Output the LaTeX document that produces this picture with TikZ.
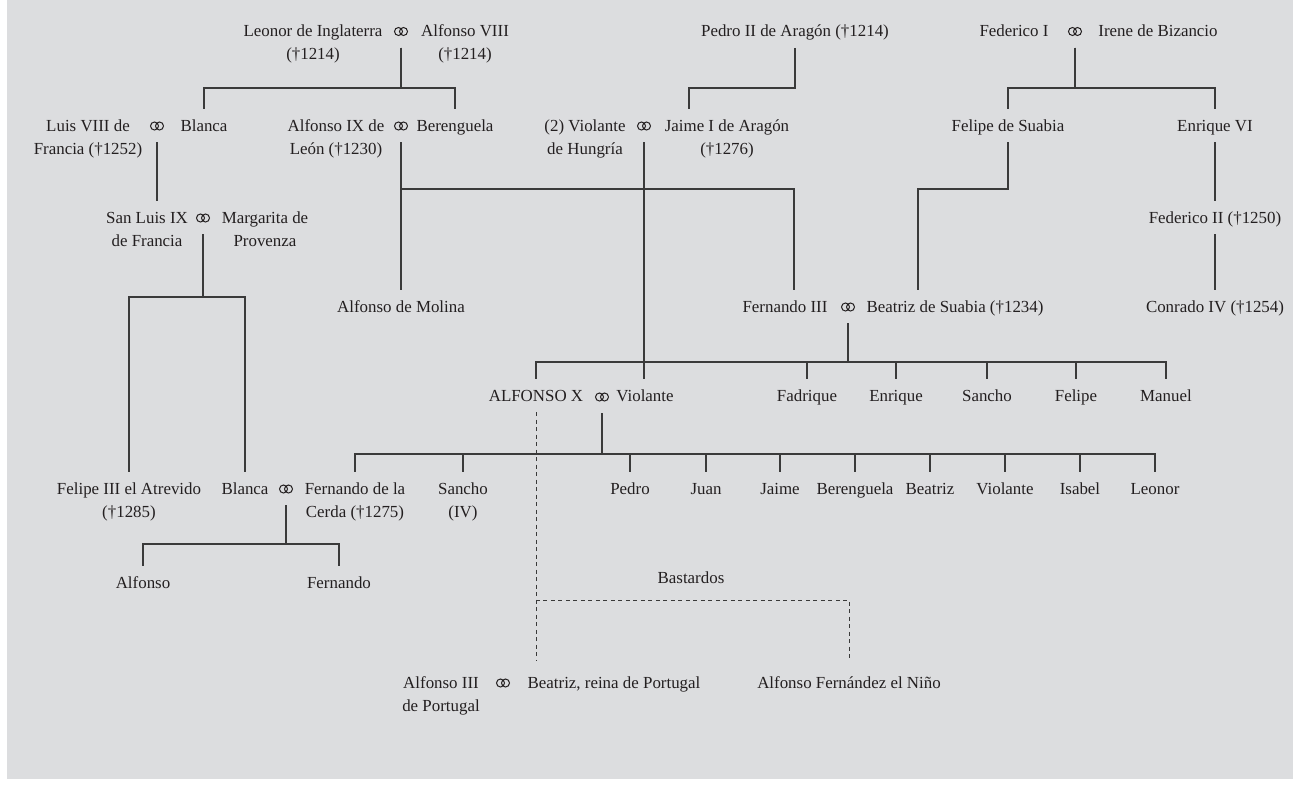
\documentclass[tikz,border=0pt]{standalone}
\usepackage{fontspec}
\setmainfont{Liberation Serif}
\usepackage{tikz}
\definecolor{panel}{HTML}{DCDDDF}
\definecolor{ink}{HTML}{231F20}
\definecolor{linecol}{HTML}{3A3A3A}

\begin{document}
\begin{tikzpicture}[x=1pt,y=-1pt,
  person/.style={anchor=north,inner sep=0pt,align=center,text=ink,font=\fontsize{16.9}{23}\selectfont,execute at begin node=\strut,execute at end node=\strut},
  wed/.style={inner sep=0pt,minimum width=14pt,minimum height=24pt},
  rings/.style={draw=ink,line width=1pt},
  fam/.style={draw=linecol,line width=1.2pt,shorten <=4pt,shorten >=6pt},
  bast/.style={fam,line width=1pt,dash pattern=on 4pt off 3.5pt,shorten >=12pt}]
  \useasboundingbox (0,0) rectangle (1293,787);
  \fill[panel] (7,0) rectangle (1293,779);

  \node[person](leonor) at (313,20.4){\strut Leonor de Inglaterra\\(†1214)};
  \node[wed](m1) at (401,31.5){};
  \node[person](alfonsoVIII) at (465,20.4){\strut Alfonso VIII\\(†1214)};
  \node[person](pedro) at (795,20.4){Pedro II de Aragón (†1214)};
  \node[person](federico) at (1014,20.4){Federico I};
  \node[wed](m2) at (1075,31.5){};
  \node[person](irene) at (1158,20.4){Irene de Bizancio};

  \node[person](luis) at (88,114.9){\strut Luis VIII de\\Francia (†1252)};
  \node[wed](m3) at (157,126){};
  \node[person](blanca) at (204,114.9){Blanca};
  \node[person](alfonsoIX) at (336,114.9){\strut Alfonso IX de\\León (†1230)};
  \node[wed](m4) at (401,126){};
  \node[person](berenguela) at (455,114.9){Berenguela};
  \node[person](violanteH) at (585,114.9){\strut (2) Violante\\de Hungría};
  \node[wed](m5) at (644,126){};
  \node[person](jaime) at (727,114.9){\strut Jaime I de Aragón\\(†1276)};
  \node[person](felipeS) at (1008,114.9){Felipe de Suabia};
  \node[person](enrique) at (1215,114.9){Enrique VI};

  \node[person](sanluis) at (147,206.9){\strut San Luis IX\\de Francia};
  \node[wed](m6) at (203,218){};
  \node[person](margarita) at (265,206.9){\strut Margarita de\\Provenza};
  \node[person](federicoII) at (1215,206.9){Federico II (†1250)};

  \node[person](molina) at (401,295.9){Alfonso de Molina};
  \node[person](fernando) at (785,295.9){Fernando III};
  \node[wed](m7) at (848,307){};
  \node[person](beatriz) at (955,295.9){Beatriz de Suabia (†1234)};
  \node[person](conrado) at (1215,295.9){Conrado IV (†1254)};

  \node[person](alfonsoX) at (536,384.9){ALFONSO X};
  \node[wed](m8) at (602,397){};
  \node[person](violante) at (645,384.9){Violante};
  \node[person](fadrique) at (807,384.9){Fadrique};
  \node[person](enriqueF) at (896,384.9){Enrique};
  \node[person](sancho) at (987,384.9){Sancho};
  \node[person](felipe) at (1076,384.9){Felipe};
  \node[person](manuel) at (1166,384.9){Manuel};

  \node[person](felipeIII) at (129,477.9){\strut Felipe III el Atrevido\\(†1285)};
  \node[person](blancaC) at (245,477.9){Blanca};
  \node[wed](m9) at (286,489){};
  \node[person](cerda) at (355,477.9){\strut Fernando de la\\Cerda (†1275)};
  \node[person](sanchoIV) at (463,477.9){\strut Sancho\\(IV)};
  \node[person](pedroX) at (630,477.9){Pedro};
  \node[person](juan) at (706,477.9){Juan};
  \node[person](jaimeX) at (780,477.9){Jaime};
  \node[person](berenguelaX) at (855,477.9){Berenguela};
  \node[person](beatrizX) at (930,477.9){Beatriz};
  \node[person](violanteX) at (1005,477.9){Violante};
  \node[person](isabel) at (1080,477.9){Isabel};
  \node[person](leonorX) at (1155,477.9){Leonor};

  \node[person](alfonsoB) at (143,571.9){Alfonso};
  \node[person](fernandoB) at (339,571.9){Fernando};
  \node[person](bastardos) at (691,566.9){Bastardos};

  \node[person](alfonsoIII) at (441,671.9){\strut Alfonso III\\de Portugal};
  \node[wed](m10) at (503,683){};
  \node[person](beatrizP) at (614,671.9){Beatriz, reina de Portugal};
  \node[person](nino) at (849,671.9){Alfonso Fernández el Niño};

  \foreach \m in {m1,m2,m3,m4,m5,m6,m7,m8,m9,m10}
    \draw[rings] (\m) ++(-2.5,0) circle (4pt) ++(5,0) circle (4pt);

  \coordinate (jaimetop) at ([xshift=-38pt]jaime.north);
  \coordinate (fernandotop) at ([xshift=9pt]fernando.north);
  \coordinate (beatriztop) at ([xshift=-37pt]beatriz.north);
  \coordinate (beatrizPtop) at (alfonsoX.south |- beatrizP.north);

  \draw[fam] (m1.south) |- (blanca.north |- 0,88) -- (blanca.north);
  \draw[fam] (m1.south) |- (berenguela.north |- 0,88) -- (berenguela.north);
  \draw[fam] (pedro.south) |- (jaimetop |- 0,88) -- (jaimetop);
  \draw[fam] (m2.south) |- (felipeS.north |- 0,88) -- (felipeS.north);
  \draw[fam] (m2.south) |- (enrique.north |- 0,88) -- (enrique.north);
  \draw[fam] (m3.south) -- (m3.south |- sanluis.north);
  \draw[fam] (m4.south) -- (molina.north);
  \draw[fam] (m4.south) |- (fernandotop |- 0,189) -- (fernandotop);
  \draw[fam] (m5.south) -- (m5.south |- violante.north);
  \draw[fam] (felipeS.south) |- (beatriztop |- 0,189) -- (beatriztop);
  \draw[fam] (enrique.south) -- (federicoII.north);
  \draw[fam] (federicoII.south) -- (conrado.north);
  \draw[fam] (m6.south) |- (felipeIII.north |- 0,297) -- (felipeIII.north);
  \draw[fam] (m6.south) |- (blancaC.north |- 0,297) -- (blancaC.north);
  \foreach \c in {alfonsoX,fadrique,enriqueF,sancho,felipe,manuel}
    \draw[fam] (m7.south) |- (\c.north |- 0,362) -- (\c.north);
  \foreach \c in {cerda,sanchoIV,pedroX,juan,jaimeX,berenguelaX,beatrizX,violanteX,isabel,leonorX}
    \draw[fam] (m8.south) |- (\c.north |- 0,454) -- (\c.north);
  \draw[fam] (m9.south) |- (alfonsoB.north |- 0,544) -- (alfonsoB.north);
  \draw[fam] (m9.south) |- (fernandoB.north |- 0,544) -- (fernandoB.north);
  \draw[bast] (alfonsoX.south) -- (beatrizPtop);
  \draw[bast] (alfonsoX.south) |- (nino.north |- 0,600) -- (nino.north);
\end{tikzpicture}
\end{document}
